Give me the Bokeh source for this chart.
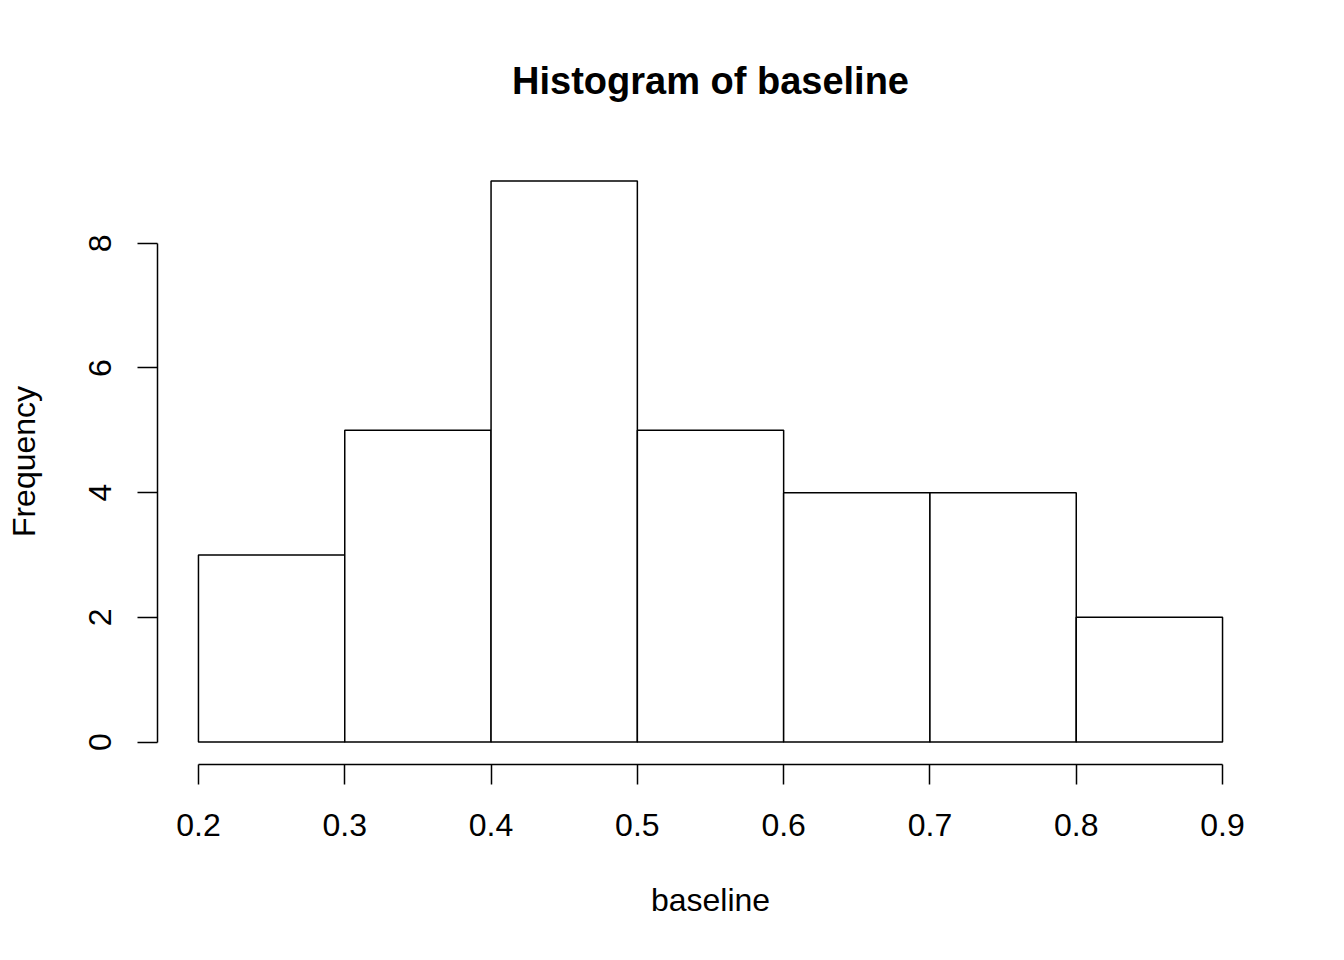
from bokeh.plotting import figure
from bokeh.models import Range1d, FixedTicker, LinearAxis
from bokeh.embed import file_html
from bokeh.resources import INLINE

# Histogram data
bin_left = [0.2, 0.3, 0.4, 0.5, 0.6, 0.7, 0.8]
bin_right = [0.3, 0.4, 0.5, 0.6, 0.7, 0.8, 0.9]
counts = [3, 5, 9, 5, 4, 4, 2]
x_ticks = [0.2, 0.3, 0.4, 0.5, 0.6, 0.7, 0.8, 0.9]
y_ticks = [0, 2, 4, 6, 8]
title_text = "Histogram of baseline"
x_label = "baseline"
y_label = "Frequency"

FONT = "Liberation Sans"

p = figure(width=1328, height=944, output_backend="svg", toolbar_location=None,
           x_range=Range1d(0.172, 0.928), y_range=Range1d(-0.36, 9.36),
           x_axis_type=None, y_axis_type=None,
           min_border_left=157, min_border_right=65,
           min_border_top=158, min_border_bottom=180)
p.outline_line_color = None
p.background_fill_color = "white"
p.border_fill_color = "white"
p.grid.visible = False

p.quad(left=bin_left, right=bin_right, bottom=0, top=counts,
       fill_color="white", line_color="black", line_width=1.5)

xaxis = LinearAxis(ticker=FixedTicker(ticks=x_ticks), bounds=(0.2, 0.9),
                   axis_label=x_label)
yaxis = LinearAxis(ticker=FixedTicker(ticks=y_ticks), bounds=(0, 8),
                   axis_label=y_label)
for ax in (xaxis, yaxis):
    ax.axis_line_width = 1.5
    ax.axis_line_color = "black"
    ax.major_tick_line_width = 1.5
    ax.major_tick_line_color = "black"
    ax.major_tick_out = 20
    ax.major_tick_in = 0
    ax.minor_tick_line_color = None
    ax.major_label_text_font = FONT
    ax.major_label_text_font_size = "32px"
    ax.major_label_text_color = "black"
    ax.axis_label_text_font = FONT
    ax.axis_label_text_font_size = "32px"
    ax.axis_label_text_font_style = "normal"
    ax.axis_label_text_color = "black"
xaxis.major_label_standoff = 29
xaxis.axis_label_standoff = 43
yaxis.major_label_orientation = "vertical"
yaxis.major_label_standoff = 26
yaxis.axis_label_standoff = 45

p.add_layout(xaxis, "below")
p.add_layout(yaxis, "left")

p.title.text = title_text
p.title.align = "center"
p.title.text_font = FONT
p.title.text_font_size = "38px"
p.title.text_font_style = "bold"
p.title.text_color = "black"
p.title.standoff = 113

open("out.html", "w").write(file_html(p, INLINE))
